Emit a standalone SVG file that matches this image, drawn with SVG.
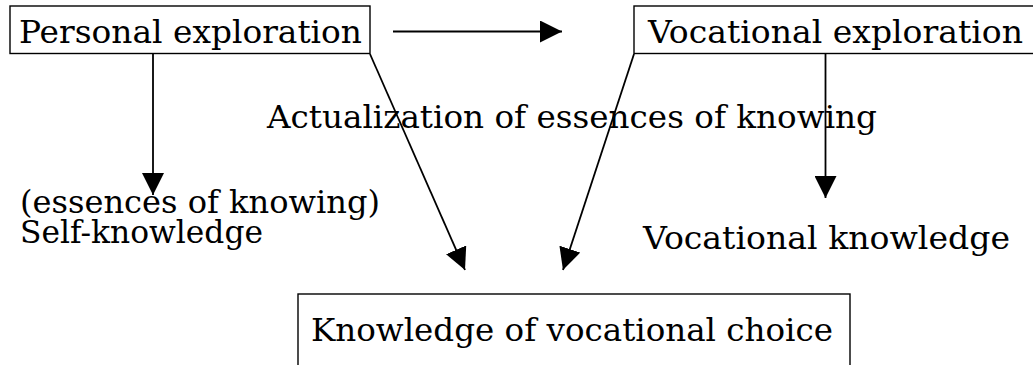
<svg xmlns="http://www.w3.org/2000/svg" width="1033" height="365" viewBox="0 0 1033 365">
<style>
.box{fill:#fff;stroke:#000;stroke-width:1.4}
.t{font-family:"DejaVu Serif","Liberation Serif",serif;font-size:31px;fill:#000}
.c{stroke:#000;stroke-width:1.8;fill:none;marker-end:url(#ah)}
</style>
<defs>
<marker id="ah" markerUnits="userSpaceOnUse" markerWidth="22" markerHeight="22" viewBox="0 0 20 20" refX="20" refY="10" orient="auto">
<path d="M0,0 L20,10 L0,20 Z" fill="#000"/>
</marker>
</defs>
<rect width="1033" height="365" fill="#fff"/>
<g id="n-personal">
<rect class="box" x="10" y="6" width="360" height="47.5"/>
<text class="t" x="19" y="43" textLength="343" lengthAdjust="spacingAndGlyphs">Personal exploration</text>
</g>
<g id="n-vocational">
<rect class="box" x="634" y="6" width="420" height="47.5"/>
<text class="t" x="648" y="43" textLength="375" lengthAdjust="spacingAndGlyphs">Vocational exploration</text>
</g>
<g id="n-choice">
<rect class="box" x="298" y="294" width="552" height="90"/>
<text class="t" x="311" y="341" textLength="522" lengthAdjust="spacingAndGlyphs">Knowledge of vocational choice</text>
</g>
<g id="n-actualization">
<text class="t" x="267" y="128" textLength="610" lengthAdjust="spacingAndGlyphs">Actualization of essences of knowing</text>
</g>
<g id="n-self">
<text class="t" x="20" y="213" textLength="360" lengthAdjust="spacingAndGlyphs">(essences of knowing)</text>
<text class="t" x="20" y="243" textLength="243" lengthAdjust="spacingAndGlyphs">Self-knowledge</text>
</g>
<g id="n-vknow">
<text class="t" x="643" y="249" textLength="367" lengthAdjust="spacingAndGlyphs">Vocational knowledge</text>
</g>
<g id="connectors">
<line class="c" x1="393" y1="31.5" x2="562" y2="31.5"/>
<line class="c" x1="153" y1="54" x2="153" y2="195"/>
<line class="c" x1="825.5" y1="54" x2="825.5" y2="198"/>
<line class="c" x1="370" y1="54" x2="465" y2="270"/>
<line class="c" x1="634" y1="54" x2="563" y2="270"/>
</g>
</svg>
